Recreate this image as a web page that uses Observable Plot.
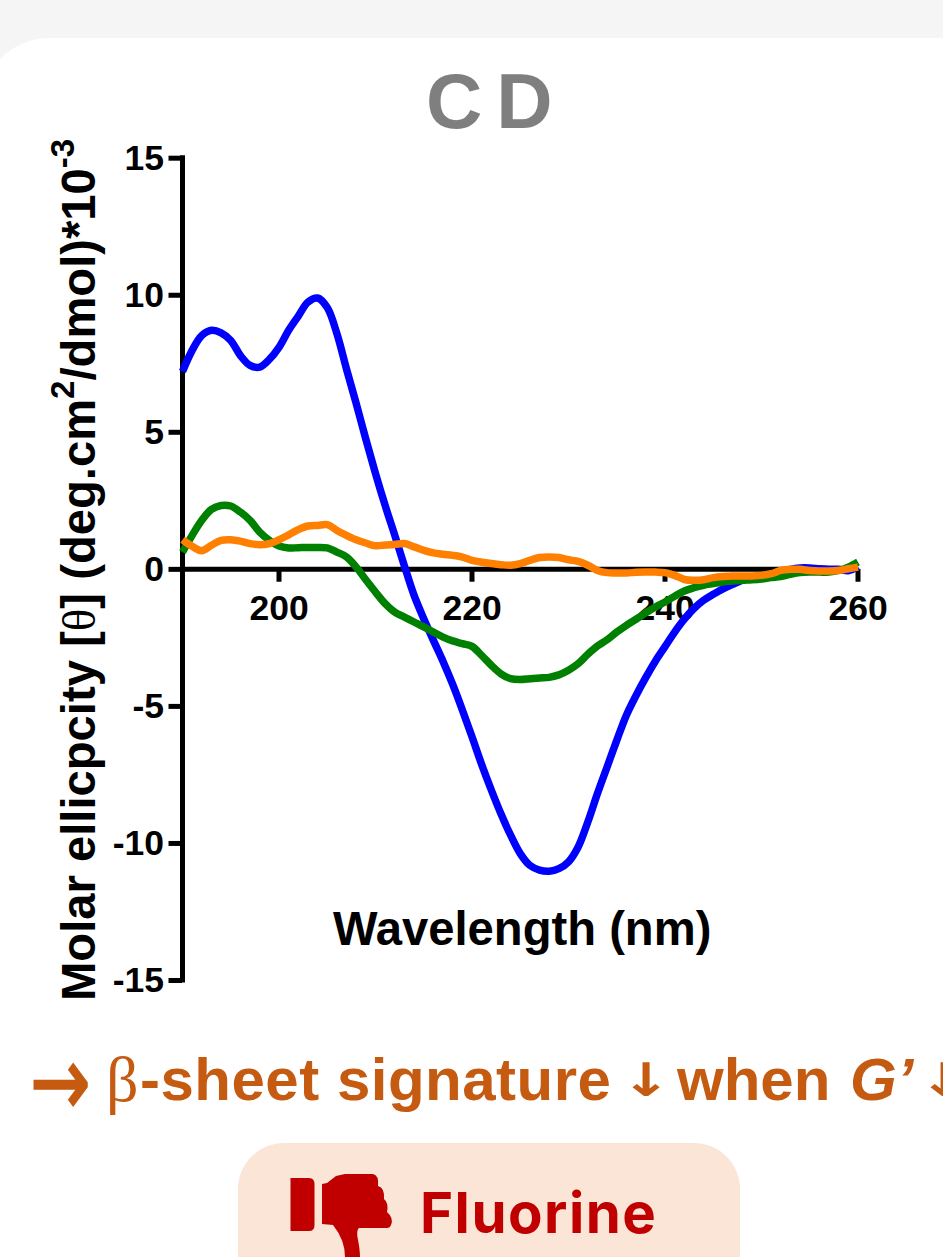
<!DOCTYPE html>
<html><head><meta charset="utf-8">
<script src="https://cdn.jsdelivr.net/npm/d3@7"></script>
<script src="https://cdn.jsdelivr.net/npm/@observablehq/plot@0.6"></script>
<style>
html,body{margin:0;padding:0;width:943px;height:1257px;overflow:hidden;background:#f5f5f5}
#card{position:absolute;left:-20px;top:38px;width:1000px;height:1300px;background:#fff;border-top-left-radius:70px}
#chart{position:absolute;left:0;top:0}
#title{position:absolute;left:426px;top:52px;font:700 78px "Liberation Sans";color:#7f7f7f;letter-spacing:14px;line-height:98px;white-space:nowrap}
#note{position:absolute;left:0;top:1042px;width:943px;height:80px;font:700 60px "Liberation Sans";color:#c55a11;white-space:nowrap;line-height:76px}
#note span{position:absolute;top:0}
#note .g{font-family:"Liberation Serif";font-weight:400;font-size:64px}
#note .a{font-family:"DejaVu Sans";font-weight:400;font-size:72px;transform:scaleY(1.35);transform-origin:50% 46%;-webkit-text-stroke:1.5px #c55a11}
#note .s{font-family:"DejaVu Sans";font-weight:700;font-size:46px;transform:scaleX(1.3);transform-origin:0 50%}
#pill{position:absolute;left:238px;top:1143px;width:502px;height:200px;background:#fbe5d6;border-radius:46px}
#fl{position:absolute;left:420px;top:1174px;font:700 56.400px "Inter";letter-spacing:1.5px;color:#c00000;line-height:78px;white-space:nowrap}
#icon{position:absolute;left:0;top:0}
</style></head>
<body>
<div id="card"></div>
<div id="title">CD</div>
<div id="chart"></div>
<div id="note"><span class="a" style="left:30px">→</span><span class="g" style="left:106px">β</span><span style="left:140px;letter-spacing:.5px">-sheet signature</span><span class="s" style="left:621px">↓</span><span style="left:677px">when</span><span style="left:850px"><i>G’</i></span><span class="s" style="left:919px">↓</span></div>
<div id="pill"></div>
<svg id="icon" width="943" height="1257" viewBox="0 0 943 1257"><g fill="#c00000">
<path d="M290.500 1178H309Q314.500 1178 314.500 1184V1225Q314.500 1231 309 1231H290.500Z"/>
<path d="M322 1184L327 1183L336 1176L345 1174H373Q379 1175 378 1186Q385 1188 384 1199Q389 1203 387 1212Q394 1218 391 1225Q390 1228 387 1228H359Q356 1230 358 1240Q360 1250 360 1257H345Q345 1240 333 1225L322 1224Z"/>
</g></svg>
<div id="fl">Fluorine</div>
<script>
const wavelength = d3.range(190, 261);
const blueValues = [7.22,7.99,8.53,8.72,8.63,8.35,7.80,7.44,7.38,7.66,8.10,8.72,9.24,9.75,9.90,9.55,8.60,7.30,6.05,4.75,3.50,2.33,1.24,0.12,-0.95,-1.80,-2.59,-3.36,-4.20,-5.13,-6.11,-7.12,-8.05,-8.92,-9.7,-10.37,-10.8,-10.97,-11.01,-10.92,-10.67,-10.13,-9.22,-8.18,-7.21,-6.24,-5.32,-4.6,-3.95,-3.35,-2.82,-2.29,-1.82,-1.43,-1.13,-0.91,-0.71,-0.55,-0.4,-0.3,-0.25,-0.2,-0.1,0,0.05,0.05,0.02,0,0,-0.05,0.1];
const greenValues = [0.63,1.24,1.79,2.19,2.33,2.31,2.09,1.79,1.36,1.06,0.85,0.78,0.79,0.80,0.80,0.78,0.63,0.45,0.08,-0.38,-0.83,-1.25,-1.56,-1.74,-1.92,-2.10,-2.29,-2.47,-2.61,-2.71,-2.81,-3.14,-3.5,-3.81,-3.99,-4.02,-3.99,-3.96,-3.94,-3.85,-3.68,-3.44,-3.1,-2.8,-2.57,-2.29,-2.04,-1.82,-1.59,-1.37,-1.19,-0.98,-0.79,-0.67,-0.58,-0.52,-0.46,-0.43,-0.40,-0.38,-0.35,-0.30,-0.26,-0.18,-0.12,-0.1,-0.1,-0.1,-0.04,0.08,0.27];
const orangeValues = [1.08,0.84,0.68,0.88,1.06,1.08,1.03,0.94,0.9,0.94,1.08,1.26,1.45,1.58,1.6,1.63,1.42,1.24,1.08,0.96,0.86,0.89,0.91,0.94,0.82,0.69,0.6,0.55,0.51,0.45,0.33,0.26,0.21,0.17,0.15,0.21,0.33,0.43,0.45,0.43,0.35,0.29,0.15,-0.04,-0.12,-0.13,-0.13,-0.11,-0.1,-0.1,-0.12,-0.22,-0.37,-0.4,-0.38,-0.3,-0.26,-0.24,-0.24,-0.24,-0.22,-0.16,-0.04,0,0,-0.04,-0.06,-0.06,-0.04,0.02,0.08];
const xTicks = [200,220,240,260];
const yTicks = [-15,-10,-5,0,5,10,15];
const series = [
  {name:"blue", color:"#0000ff", values:blueValues},
  {name:"green", color:"#008000", values:greenValues},
  {name:"orange", color:"#ff8000", values:orangeValues}
];
const tickFont = {fontFamily:"Liberation Sans", fontWeight:700, fontSize:35.5};
const plot = Plot.plot({
  width:943, height:1030,
  marginLeft:182, marginRight:85.5, marginTop:157.7, marginBottom:50,
  style:{background:"transparent", overflow:"visible"},
  x:{domain:[190,260], axis:null},
  y:{domain:[-15,15], axis:null},
  marks:[
    Plot.axisY({ticks:yTicks, tickSize:13.5, tickPadding:5, tickFormat:d=>String(d), label:null, stroke:"black", strokeWidth:5, color:"black", ...tickFont, fill:"black"}),
    Plot.ruleX([190],{y1:-15.09,y2:15.09,stroke:"black",strokeWidth:5}),
    Plot.ruleY([0],{x1:190,x2:260,stroke:"black",strokeWidth:5}),
    Plot.ruleX(xTicks,{y1:0,y2:-0.47,stroke:"black",strokeWidth:5}),
    Plot.text(xTicks,{x:d=>d,y:()=>-1.44,text:d=>String(d),fill:"black",lineAnchor:"middle",...tickFont}),
    Plot.text(["Wavelength (nm)"],{x:()=>225.2,y:()=>-13.15,text:d=>d,fill:"black",lineAnchor:"middle",fontFamily:"Liberation Sans",fontWeight:700,fontSize:47.2}),
    ...series.map(s=>Plot.line(wavelength,{x:d=>d,y:(d,i)=>s.values[i],stroke:s.color,strokeWidth:7.5,strokeLinecap:"butt",strokeLinejoin:"round",curve:"catmull-rom"}))
  ]
});
document.getElementById("chart").append(plot);
const label = d3.select(plot).append("text")
  .attr("transform","translate(95,1001) rotate(-90)")
  .attr("text-anchor","start")
  .attr("font-family","Liberation Sans").attr("font-weight",700).attr("font-size",47.2).attr("fill","black");
label.append("tspan").text("Molar ellicpcity [");
label.append("tspan").attr("font-family","Liberation Serif").attr("font-weight",400).text("θ");
label.append("tspan").text("] (deg.cm");
label.append("tspan").attr("font-size",33).attr("dy",-21).text("2");
label.append("tspan").attr("dy",21).text("/dmol)*10");
label.append("tspan").attr("font-size",33).attr("dy",-21).text("-3");
</script>
</body></html>
